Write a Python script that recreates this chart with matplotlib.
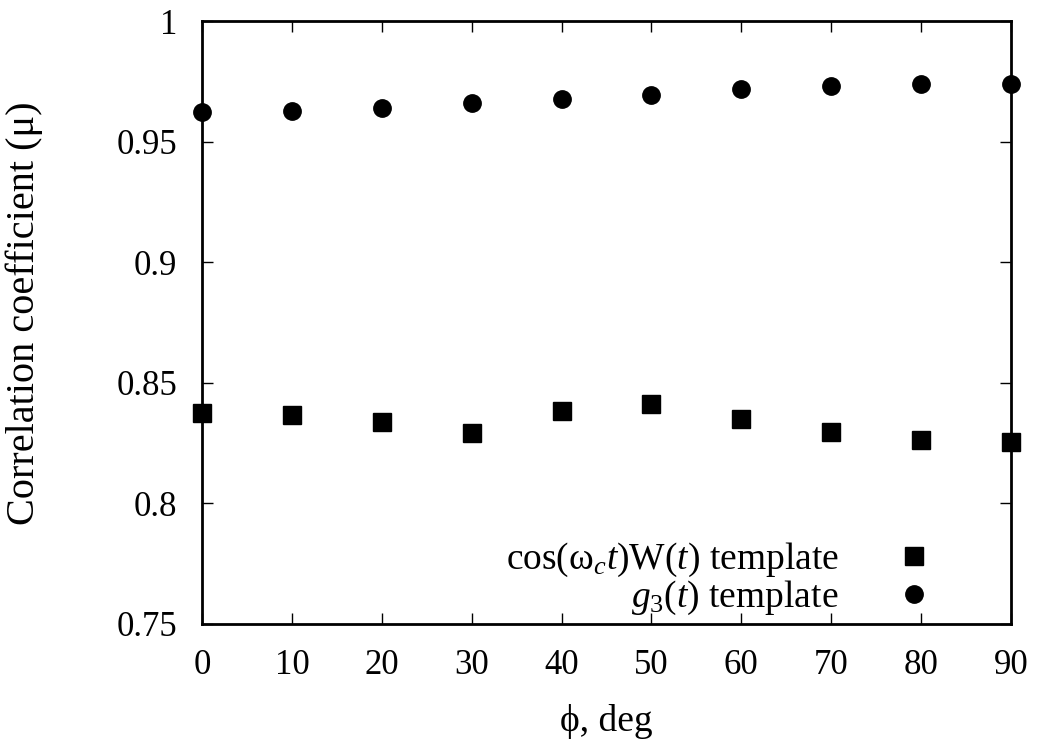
import matplotlib
matplotlib.use("Agg")
import matplotlib.pyplot as plt

# data
phi_deg = [0, 10, 20, 30, 40, 50, 60, 70, 80, 90]
mu_cos_template = [0.8373, 0.8365, 0.8336, 0.8291, 0.8382, 0.8411, 0.8349, 0.8295, 0.8262, 0.8253]
mu_g3_template = [0.9624, 0.9627, 0.9639, 0.9658, 0.9676, 0.9694, 0.9717, 0.9731, 0.9738, 0.9737]

y_ticks = [0.75, 0.8, 0.85, 0.9, 0.95, 1.0]
y_tick_labels = ["0.75", "0.8", "0.85", "0.9", "0.95", "1"]
x_ticks = [0, 10, 20, 30, 40, 50, 60, 70, 80, 90]

label_cos = r"cos(ω$_{c}t$)W($t$) template"
label_g3 = r"$g_{\mathrm{3}}$($t$) template"

plt.rcParams['font.family'] = ['Liberation Serif', 'DejaVu Serif']
plt.rcParams['mathtext.fontset'] = 'custom'
plt.rcParams['mathtext.rm'] = 'Liberation Serif'
plt.rcParams['mathtext.it'] = 'Liberation Serif:italic'
plt.rcParams['font.size'] = 25

fig = plt.figure(figsize=(10.4, 7.44), dpi=100)
ax = fig.add_axes([202 / 1040, 1 - 624 / 744, (1011 - 202) / 1040, (624 - 21) / 744])

ax.plot(phi_deg, mu_cos_template, linestyle='none', marker='s', markersize=13,
        color='black', clip_on=False, zorder=3, label=label_cos)
ax.plot(phi_deg, mu_g3_template, linestyle='none', marker='o', markersize=12.5,
        color='black', clip_on=False, zorder=3, label=label_g3)

ax.set_xlim(0, 90)
ax.set_ylim(0.75, 1.0)
ax.set_xticks(x_ticks)
ax.set_yticks(y_ticks)
ax.set_yticklabels(y_tick_labels)

ax.tick_params(direction='in', length=8, width=1.0, top=True, right=True, labelsize=25)
ax.tick_params(axis='x', pad=18)
ax.tick_params(axis='y', pad=18)
for side in ax.spines.values():
    side.set_linewidth(2.0)

ax.set_xlabel("ϕ, deg", fontsize=27)
ax.xaxis.set_label_coords(0.5, -0.133)
ax.set_ylabel("Correlation coefficient (μ)", fontsize=29)
ax.yaxis.set_label_coords(-0.197, 0.515)

ax.legend(loc='lower right', frameon=False, markerfirst=False, fontsize=27,
          handlelength=0.8, handletextpad=1.6, labelspacing=0.0, borderaxespad=0.0,
          bbox_to_anchor=(0.917, -0.014))

fig.savefig("out.png", dpi=100)
